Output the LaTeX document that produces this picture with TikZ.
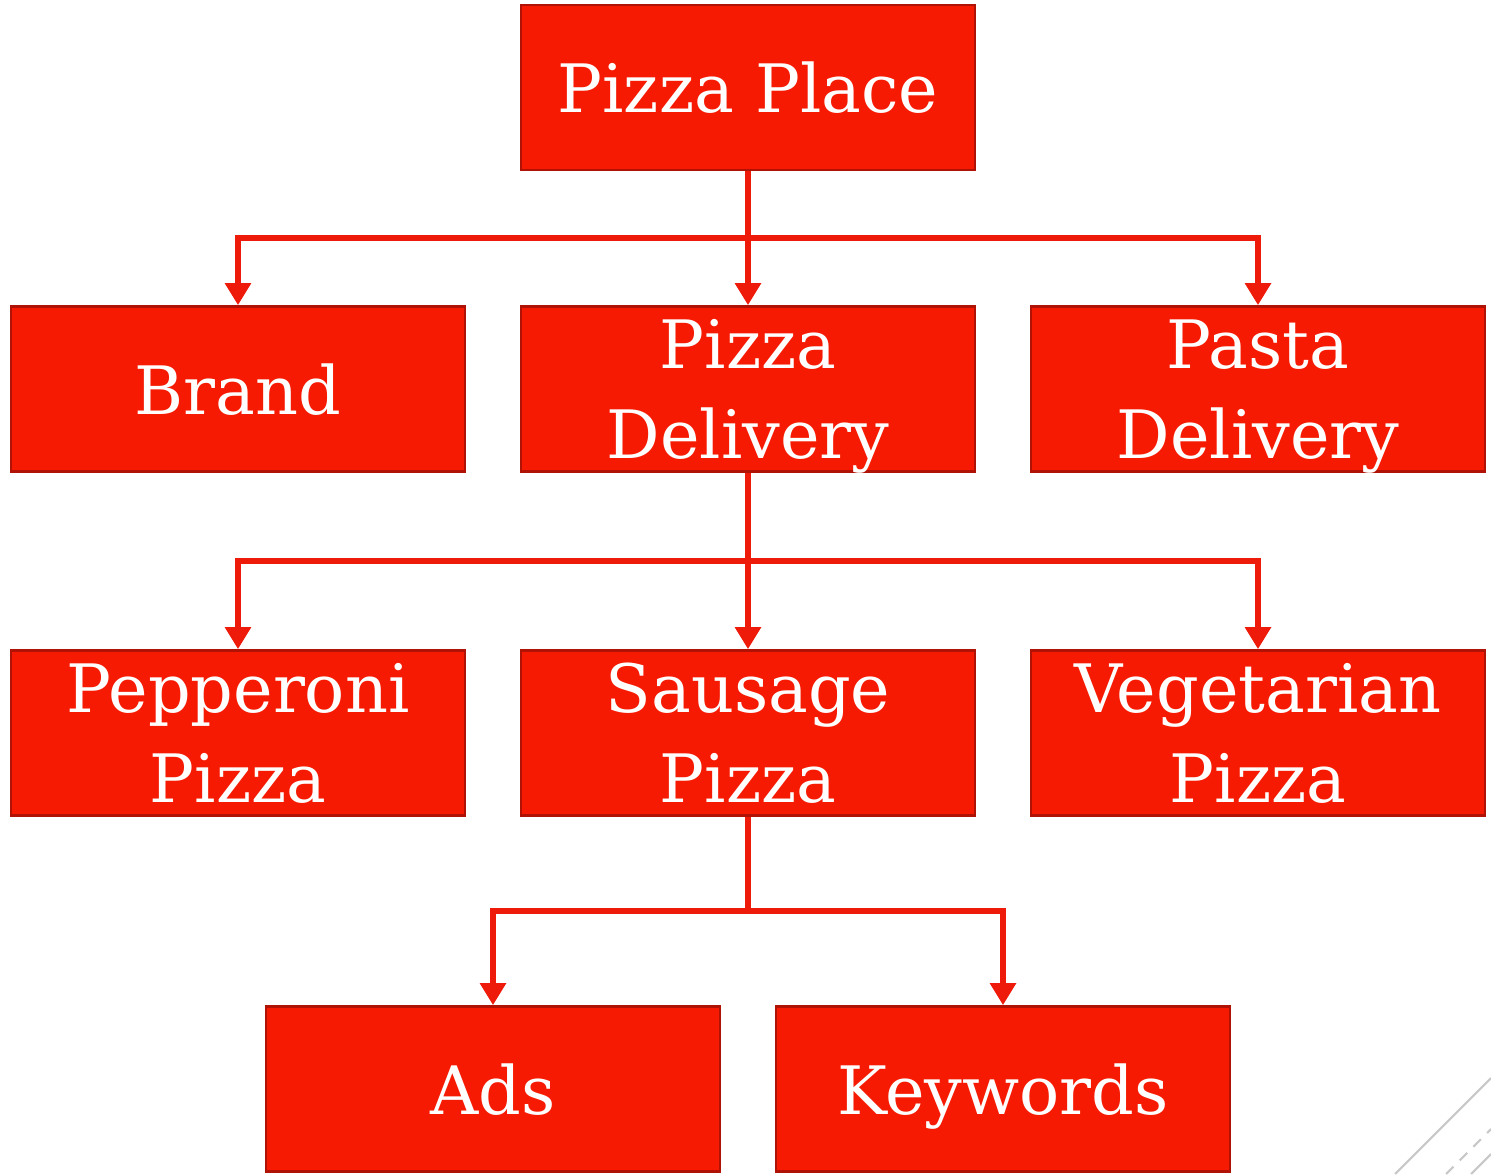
\documentclass[tikz,border=0pt]{standalone}
\usepackage{fontspec}
\setmainfont{DejaVu Serif}
\usepackage{tikz}
\usetikzlibrary{positioning, arrows.meta, calc}
\definecolor{boxred}{HTML}{F61A02}
\definecolor{boxedge}{HTML}{B01206}
\definecolor{linered}{HTML}{EE1A0A}
\definecolor{decogray}{HTML}{C8C8C8}

\begin{document}
\begin{tikzpicture}[
                x=0.02cm, y=0.02cm,
                box/.style={draw=boxedge, line width=1.5pt, fill=boxred, rectangle, minimum width=9.08cm, minimum height=3.3cm, text=white, align=center, text depth=0pt, inner sep=0pt, font=\fontsize{38}{51}\selectfont},
                edge/.style={draw=linered, line width=3.6pt, -{Triangle[width=0.5cm, length=0.44cm]}},
                deco/.style={draw=decogray, line width=1.2pt}
            ]
            \useasboundingbox (0,0) rectangle (1491,1174);

            % Knoten
            \node[box] (place) at (748,1086.5) {Pizza Place};
            \node[box] (brand) at (238,785) {Brand};
            \node[box] (pizzadel) at (748,785) {Pizza\\Delivery};
            \node[box] (pastadel) at (1258,785) {Pasta\\Delivery};
            \node[box] (pep) at (238,441) {Pepperoni\\Pizza};
            \node[box] (saus) at (748,441) {Sausage\\Pizza};
            \node[box] (veg) at (1258,441) {Vegetarian\\Pizza};
            \node[box] (ads) at (493,85) {Ads};
            \node[box] (kw) at (1003,85) {Keywords};

            % Verzweigungen
            \coordinate (split1) at ($(place.south)!0.5!(pizzadel.north)$);
            \coordinate (split2) at ($(pizzadel.south)!0.5!(saus.north)$);
            \coordinate (split3) at ($(saus.south)!0.5!(ads.north -| saus.south)$);

            % Kanten zwischen Knoten
            \draw[edge] (split1) -| (brand.north);
            \draw[edge] (split1) -| (pastadel.north);
            \draw[edge] (place.south) -- (pizzadel.north);

            \draw[edge] (split2) -| (pep.north);
            \draw[edge] (split2) -| (veg.north);
            \draw[edge] (pizzadel.south) -- (saus.north);

            \draw[edge, -] (saus.south) -- (split3);
            \draw[edge] (split3) -| (ads.north);
            \draw[edge] (split3) -| (kw.north);

            % Ecke unten rechts
            \draw[deco] (1395,0) -- (1491,96);
            \draw[deco, dashed, dash pattern=on 6pt off 5pt] (1446,0) -- (1491,45);
            \draw[deco] (1471,0) -- (1491,20);

        \end{tikzpicture}
\end{document}
